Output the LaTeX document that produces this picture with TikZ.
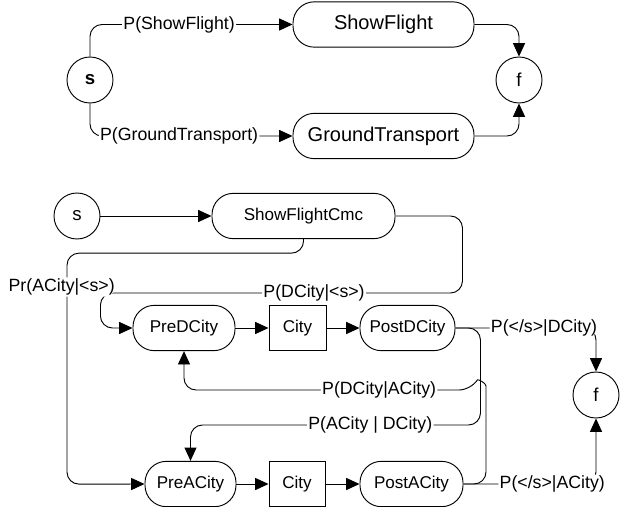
\documentclass[tikz,border=0pt]{standalone}
\usepackage{fontspec}
\setmainfont{Liberation Sans}
\usetikzlibrary{arrows.meta}

\tikzset{
	state/.style={draw, circle, minimum size=34.5pt, inner sep=0pt, font=\fontsize{14}{16}\selectfont},
	task/.style={draw, rounded corners=16pt, minimum height=34pt, inner sep=0pt, font=\fontsize{12.8}{15}\selectfont},
	slot/.style={draw, minimum height=34pt, inner sep=0pt, font=\fontsize{12.8}{15}\selectfont},
	flow/.style={-{Triangle[length=10pt,width=9pt]}, rounded corners=9pt},
	prob/.style={fill=white, inner sep=1pt, font=\fontsize{13.3}{15}\selectfont},
}

\begin{document}
\begin{tikzpicture}[x=0.75pt, y=0.75pt, line width=0.7pt]
			%%%%% START %%%%%
			\useasboundingbox (0,0) rectangle (623,-506);
			
			% flight or ground transport
			\node[state, font=\bfseries\fontsize{14}{16}\selectfont] (s1) at (90,-80) {s};
			\node[task, minimum width=135.75pt, font=\fontsize{15}{18}\selectfont] (sf) at (383.5,-24.5) {ShowFlight};
			\node[task, minimum width=135.75pt, font=\fontsize{15}{18}\selectfont] (gt) at (383.5,-136) {GroundTransport};
			\node[state] (f1) at (519,-80) {f};
			
			\draw[flow] (s1.north) |- node[prob, pos=0.72] {P(ShowFlight)} (sf.west);
			\draw[flow] (s1.south) |- node[prob, pos=0.72] {P(GroundTransport)} (gt.west);
			\draw[flow] (sf.east) -| (f1.north);
			\draw[flow] (gt.east) -| (f1.south);
			
			% city slots of the command
			\node[state] (s2) at (77,-216) {s};
			\node[task, minimum width=137.25pt] (cmd) at (303.5,-216) {ShowFlightCmc};
			\node[task, minimum width=76.5pt] (predc) at (184,-328) {PreDCity};
			\node[slot, minimum width=42.75pt] (city1) at (297.5,-328) {City};
			\node[task, minimum width=71.25pt] (postdc) at (407.5,-328) {PostDCity};
			\node[task, minimum width=68.25pt] (preac) at (190.5,-484) {PreACity};
			\node[slot, minimum width=42pt] (city2) at (297,-484) {City};
			\node[task, minimum width=77.25pt] (postac) at (411.5,-484) {PostACity};
			\node[state] (f2) at (596,-395) {f};
			
			\draw[flow] (s2) -- (cmd);
			\draw[flow] (predc) -- (city1);
			\draw[flow] (city1) -- (postdc);
			\draw[flow] (preac) -- (city2);
			\draw[flow] (city2) -- (postac);
			
			\draw[flow] (cmd.east) -- ++(67,0) -- ++(0,-77) -- node[prob, pos=0.41] {P(DCity|<s>)} ++(-362,0) |- (predc.west);
			\draw[flow] (cmd.south) -- ++(0,-14) -- ++(-236.5,0) -- node[prob, pos=0.147, xshift=-4pt] {Pr(ACity|<s>)} ++(0,-231) -- (preac.west);
			
			\draw[flow] (postdc.east) -| node[prob, pos=0.315] {P(</s>|DCity)} (f2.north);
			\draw[flow] (postac.east) -| node[prob, pos=0.335] {P(</s>|ACity)} (f2.south);
			
			\draw[flow] (postdc.east) -- ++(25,0) -- ++(0,-97) -| node[prob, pos=0.19] {P(ACity | DCity)} (preac.north);
			% jumps over the line above
			\draw[flow] (postac.east) -- (486,-484) -- (486,-398) .. controls (486,-383) and (478,-379) .. (471,-390) -| node[prob, pos=0.16] {P(DCity|ACity)} (predc.south);
			
			%%%%% END %%%%%
\end{tikzpicture}
\end{document}
